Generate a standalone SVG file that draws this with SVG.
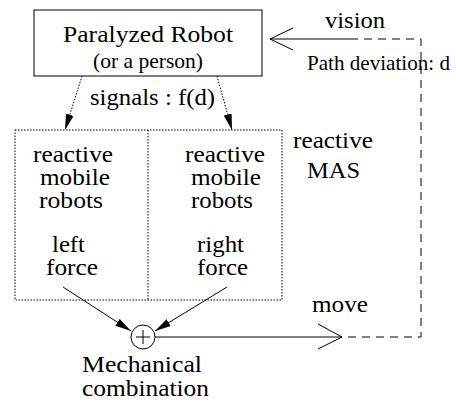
<svg xmlns="http://www.w3.org/2000/svg" width="456" height="403" viewBox="0 0 456 403">
<defs>
<style>
text{font-family:'Liberation Serif','DejaVu Serif','Noto Serif',serif;fill:#000;font-size:24px}
.sm{font-size:21px}
.solid{stroke:#000;stroke-width:1;fill:none}
.dot{stroke:#000;stroke-width:1;fill:none;stroke-dasharray:1.5,1.5}
.dash{stroke:#000;stroke-width:1;fill:none;stroke-dasharray:8,6}
</style>
<marker id="fillBig" viewBox="0 0 16 8" refX="16" refY="4" markerWidth="16" markerHeight="8" markerUnits="userSpaceOnUse" orient="auto">
<path d="M0,0 L16,4 L0,8 Z" fill="#000"/>
</marker>
</defs>
<rect width="456" height="403" fill="#fff"/>

<g id="robot">
<rect x="34" y="10" width="228" height="66" fill="#fff" stroke="#000" stroke-width="1"/>
<text x="63" y="42" textLength="170" lengthAdjust="spacingAndGlyphs">Paralyzed Robot</text>
<text x="93" y="68" class="sm" textLength="110" lengthAdjust="spacingAndGlyphs">(or a person)</text>
</g>

<g id="mas">
<rect x="15" y="130" width="267" height="170" class="dot"/>
<line x1="148" y1="130" x2="148" y2="300" class="dot"/>
<text x="293" y="148" textLength="80" lengthAdjust="spacingAndGlyphs">reactive</text>
<text x="307" y="178" textLength="53" lengthAdjust="spacingAndGlyphs">MAS</text>
</g>

<g id="left">
<text x="33" y="162" textLength="80" lengthAdjust="spacingAndGlyphs">reactive</text>
<text x="40" y="185" textLength="70" lengthAdjust="spacingAndGlyphs">mobile</text>
<text x="39" y="208" textLength="64" lengthAdjust="spacingAndGlyphs">robots</text>
<text x="52" y="252" textLength="33" lengthAdjust="spacingAndGlyphs">left</text>
<text x="46" y="275" textLength="52" lengthAdjust="spacingAndGlyphs">force</text>
</g>

<g id="right">
<text x="185" y="162" textLength="80" lengthAdjust="spacingAndGlyphs">reactive</text>
<text x="191" y="185" textLength="70" lengthAdjust="spacingAndGlyphs">mobile</text>
<text x="191" y="208" textLength="62" lengthAdjust="spacingAndGlyphs">robots</text>
<text x="197" y="252" textLength="47" lengthAdjust="spacingAndGlyphs">right</text>
<text x="197" y="275" textLength="51" lengthAdjust="spacingAndGlyphs">force</text>
</g>

<g id="combiner">
<circle cx="143" cy="337" r="12" fill="#fff" stroke="#000" stroke-width="1"/>
<line x1="136" y1="337" x2="150" y2="337" class="solid"/>
<line x1="143" y1="330" x2="143" y2="344" class="solid"/>
<text x="82" y="372" textLength="120" lengthAdjust="spacingAndGlyphs">Mechanical</text>
<text x="82" y="396" textLength="127" lengthAdjust="spacingAndGlyphs">combination</text>
</g>

<g id="connectors">
<line x1="82" y1="76" x2="65" y2="130" class="dot" marker-end="url(#fillBig)"/>
<line x1="217" y1="76" x2="232" y2="130" class="dot" marker-end="url(#fillBig)"/>
<text x="90" y="105" textLength="125" lengthAdjust="spacingAndGlyphs">signals : f(d)</text>
<line x1="63" y1="287" x2="131" y2="331" class="solid" marker-end="url(#fillBig)"/>
<line x1="227" y1="287" x2="155" y2="331" class="solid" marker-end="url(#fillBig)"/>
<line x1="155" y1="337" x2="342" y2="337" class="solid"/>
<polyline points="318,324 342,337 318,349" class="solid"/>
<text x="312" y="312" textLength="56" lengthAdjust="spacingAndGlyphs">move</text>
<polyline points="348,337 421,337 421,39 353,39" class="dash"/>
<line x1="270" y1="39" x2="353" y2="39" class="solid"/>
<polyline points="293,28 270,39 293,50" class="solid"/>
<text x="325" y="28" textLength="60" lengthAdjust="spacingAndGlyphs">vision</text>
<text x="307" y="70" class="sm" textLength="143" lengthAdjust="spacingAndGlyphs">Path deviation: d</text>
</g>
</svg>
